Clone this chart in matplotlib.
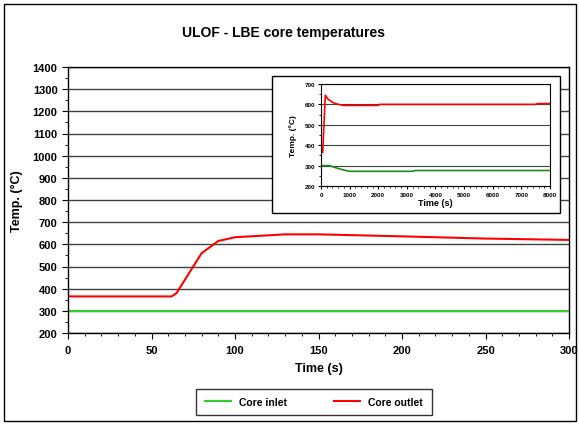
import matplotlib.pyplot as plt
from matplotlib.patches import Rectangle
from matplotlib.ticker import MultipleLocator

plt.rcParams['font.family'] = ['Liberation Sans', 'DejaVu Sans']
plt.rcParams['font.weight'] = 'bold'

# main plot data (0-300 s)
t_main = [0, 62, 65, 80, 90, 100, 130, 150, 200, 250, 300]
inlet_main = [300, 300, 300, 300, 300, 300, 300, 300, 300, 300, 300]
outlet_main = [365, 365, 380, 560, 615, 632, 645, 645, 636, 626, 620]

# inset data (0-8000 s)
t_inset = [0, 60, 150, 250, 400, 600, 800, 1000, 2000, 2050, 7500, 7550, 8000]
outlet_inset = [365, 365, 645, 625, 610, 600, 595, 595, 595, 600, 600, 604, 604]
t_inset_in = [0, 300, 500, 800, 1000, 3200, 3300, 8000]
inlet_inset = [300, 300, 290, 278, 272, 272, 276, 276]

W, H = 579, 427
fig = plt.figure(figsize=(W / 100, H / 100), dpi=100)
fig.patch.set_facecolor('white')

# outer border
fig.add_artist(Rectangle((4 / W, 5 / H), 572 / W, 417 / H, transform=fig.transFigure,
                         fill=False, edgecolor='black', linewidth=1.0))

ax = fig.add_axes([68 / W, 1 - 334 / H, 501 / W, 266 / H])
ax.plot(t_main, inlet_main, color='#33CC33', linewidth=1.5, label='Core inlet')
ax.plot(t_main, outlet_main, color='#FF0000', linewidth=1.5, label='Core outlet')
ax.set_xlim(0, 300)
ax.set_ylim(200, 1400)
ax.xaxis.set_major_locator(MultipleLocator(50))
ax.xaxis.set_minor_locator(MultipleLocator(10))
ax.yaxis.set_major_locator(MultipleLocator(100))
ax.yaxis.set_minor_locator(MultipleLocator(50))
ax.grid(axis='y', which='major', color='#404040', linewidth=1.0)
ax.set_axisbelow(True)
ax.tick_params(axis='both', which='major', labelsize=8, length=4, direction='out')
ax.tick_params(axis='both', which='minor', length=2, direction='out')
ax.tick_params(axis='x', pad=5)
for s in ax.spines.values():
    s.set_linewidth(1.0)
ax.set_xlabel('Time (s)', fontsize=9, fontweight='bold', labelpad=5)
ax.set_ylabel('Temp. (°C)', fontsize=9, fontweight='bold', labelpad=7)
fig.text(284 / W, 1 - 33 / H, 'ULOF - LBE core temperatures', fontsize=10,
         fontweight='bold', ha='center', va='center')

leg = fig.legend(loc='center', bbox_to_anchor=(314 / W, 1 - 403 / H), ncol=2,
                 fontsize=7.5, frameon=True, fancybox=False, edgecolor='black',
                 handlelength=2.5, columnspacing=4.5, borderpad=0.8)
leg.get_frame().set_linewidth(1.0)

# inset frame
fig.add_artist(Rectangle((272 / W, 1 - 214 / H), 288 / W, 137 / H, transform=fig.transFigure,
                         facecolor='white', edgecolor='black', linewidth=1.0, zorder=3))

axi = fig.add_axes([321 / W, 1 - 187 / H, 229 / W, 102 / H], zorder=4)
axi.plot(t_inset_in, inlet_inset, color='#1E8C1E', linewidth=1.2)
axi.plot(t_inset, outlet_inset, color='#FF0000', linewidth=1.2)
axi.set_xlim(0, 8000)
axi.set_ylim(200, 700)
axi.xaxis.set_major_locator(MultipleLocator(1000))
axi.xaxis.set_minor_locator(MultipleLocator(200))
axi.yaxis.set_major_locator(MultipleLocator(100))
axi.yaxis.set_minor_locator(MultipleLocator(50))
axi.grid(axis='y', which='major', color='#404040', linewidth=0.8)
axi.set_axisbelow(True)
axi.tick_params(axis='both', which='major', labelsize=4.5, length=2, pad=2)
axi.tick_params(axis='both', which='minor', length=1.5)
axi.set_xlabel('Time (s)', fontsize=6.5, fontweight='bold', labelpad=1)
axi.set_ylabel('Temp. (°C)', fontsize=6, fontweight='bold', labelpad=6)

fig.savefig('out.png', dpi=100)
